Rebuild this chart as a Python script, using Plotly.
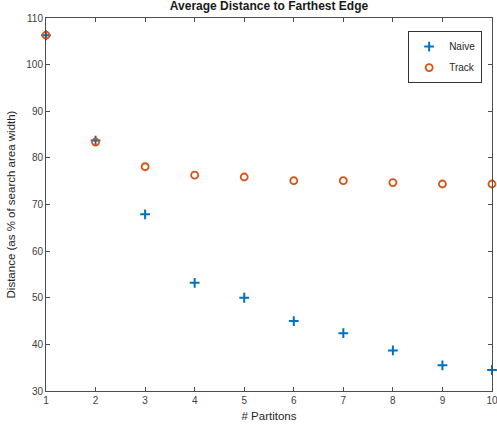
import plotly.graph_objects as go

partitions = [1, 2, 3, 4, 5, 6, 7, 8, 9, 10]
naive = [106.3, 83.7, 67.9, 53.2, 50.0, 45.0, 42.4, 38.7, 35.5, 34.5]
track = [106.3, 83.4, 78.1, 76.3, 75.9, 75.1, 75.1, 74.7, 74.4, 74.4]
x_ticks = [1, 2, 3, 4, 5, 6, 7, 8, 9, 10]
y_ticks = [30, 40, 50, 60, 70, 80, 90, 100, 110]

font_family = "Liberation Sans, Arial, sans-serif"
axis_col = "#4d4d4d"
text_col = "#404040"

fig = go.Figure()
fig.add_trace(go.Scatter(
    x=partitions, y=naive, mode="markers", name="Naive",
    legendgroup="a",
    marker=dict(symbol="cross-thin", size=7, line=dict(width=2, color="#0072BD"), color="#0072BD"),
    cliponaxis=False,
))
fig.add_trace(go.Scatter(
    x=partitions, y=track, mode="markers", name="Track",
    legendgroup="b",
    marker=dict(symbol="circle-open", size=7, line=dict(width=1.8, color="#D95319"), color="#D95319"),
    cliponaxis=False,
))

axis_common = dict(
    showline=True, linecolor=axis_col, linewidth=1, mirror="ticks",
    ticks="inside", ticklen=4, tickcolor=axis_col, showgrid=False, zeroline=False,
    ticklabeloverflow="allow", automargin=False,
    tickfont=dict(family=font_family, size=10, color=text_col),
)

fig.update_layout(
    width=497, height=432,
    margin=dict(l=46, r=5, t=18, b=41),
    paper_bgcolor="white", plot_bgcolor="white",
    title=dict(text="<b>Average Distance to Farthest Edge</b>", x=0.5, xref="paper",
               y=1, yref="container", yanchor="top", pad=dict(t=2),
               font=dict(family=font_family, size=12, color="#1a1a1a")),
    xaxis=dict(range=[1, 10], tickvals=x_ticks, title=dict(text="# Partitons", standoff=6,
               font=dict(family=font_family, size=11.5, color="#262626")), **axis_common),
    yaxis=dict(range=[30, 110], tickvals=y_ticks, title=dict(text="Distance (as % of search area width)", standoff=8,
               font=dict(family=font_family, size=11.5, color="#262626")), **axis_common),
    showlegend=True,
    legend=dict(x=0.812, y=0.965, xanchor="left", yanchor="top",
                bordercolor="#333333", borderwidth=1, bgcolor="white",
                font=dict(family=font_family, size=10, color="#262626"),
                traceorder="grouped", tracegroupgap=2, itemwidth=30),
)

fig.write_html("out.html")
